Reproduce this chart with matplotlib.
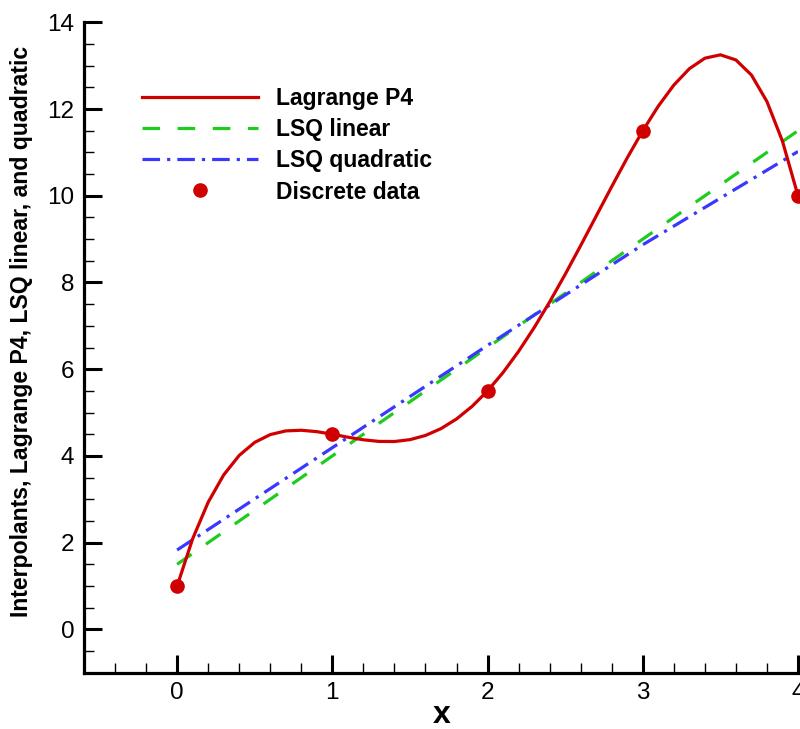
import matplotlib
matplotlib.use("Agg")
import matplotlib.pyplot as plt
from matplotlib.ticker import MultipleLocator

plt.rcParams['font.family'] = ['Liberation Sans', 'DejaVu Sans']

# Discrete data
data_x = [0, 1, 2, 3, 4]
data_y = [1.0, 4.5, 5.5, 11.5, 10.0]

# Lagrange P4 interpolant, sampled
lag_x = [0.0, 0.1, 0.2, 0.3, 0.4, 0.5, 0.6, 0.7, 0.8, 0.9,
         1.0, 1.1, 1.2, 1.3, 1.4, 1.5, 1.6, 1.7, 1.8, 1.9,
         2.0, 2.1, 2.2, 2.3, 2.4, 2.5, 2.6, 2.7, 2.8, 2.9,
         3.0, 3.1, 3.2, 3.3, 3.4, 3.5, 3.6, 3.7, 3.8, 3.9, 4.0]
lag_y = [1.0, 2.0895, 2.932, 3.562, 4.012, 4.3125, 4.492, 4.577, 4.592, 4.5595,
         4.5, 4.432, 4.372, 4.3345, 4.332, 4.375, 4.472, 4.6295, 4.852, 5.142,
         5.5, 5.9245, 6.412, 6.957, 7.552, 8.1875, 8.852, 9.532, 10.212, 10.8745,
         11.5, 12.067, 12.552, 12.9295, 13.172, 13.25, 13.132, 12.7845, 12.172, 11.257, 10.0]

# LSQ linear
lin_x = [0, 4]
lin_y = [1.5, 11.5]

# LSQ quadratic
quad_x = [0, 1, 2, 3, 4]
quad_y = [1.83, 4.19, 6.55, 8.87, 11.02]

y_ticks = [0, 2, 4, 6, 8, 10, 12, 14]

RED = '#D00000'
GREEN = '#1ECC1E'
BLUE = '#3838FF'

fig = plt.figure(figsize=(8.0, 7.29), dpi=100)
ax = fig.add_axes([0.105, 0.0772, 0.8925, 0.8922])

ax.plot(lag_x, lag_y, color=RED, lw=2.3, label='Lagrange P4', zorder=3)
ax.plot(lin_x, lin_y, color=GREEN, lw=2.3, dashes=(5.5, 5.5), label='LSQ linear', zorder=2)
ax.plot(quad_x, quad_y, color=BLUE, lw=2.3, dashes=(5.5, 2.2, 1.0, 2.2), label='LSQ quadratic', zorder=2)
ax.plot(data_x, data_y, 'o', color=RED, ms=9.5, label='Discrete data', zorder=4, clip_on=False)

ax.set_xlim(-0.6, 4.0)
ax.set_ylim(-1, 14)

for s in ['top', 'right']:
    ax.spines[s].set_visible(False)
for s in ['left', 'bottom']:
    ax.spines[s].set_linewidth(2.3)

ax.xaxis.set_major_locator(MultipleLocator(1))
ax.xaxis.set_minor_locator(MultipleLocator(0.2))
ax.yaxis.set_minor_locator(MultipleLocator(0.5))
ax.set_yticks(y_ticks)
ax.tick_params(which='major', direction='in', length=12.7, width=2.2, labelsize=17.5, pad=7)
ax.tick_params(which='minor', direction='in', length=7.5, width=1.0)

ax.set_xlabel('x', fontsize=23, fontweight='bold', labelpad=0, va='baseline')
ax.set_ylabel('Interpolants, Lagrange P4, LSQ linear, and quadratic',
              fontsize=16.6, fontweight='bold')
ax.xaxis.set_label_coords(0.501, -0.0772)
ax.yaxis.set_label_coords(-0.0714, 0.525)

ax.legend(loc='upper left', bbox_to_anchor=(0.1775, 0.881), bbox_transform=fig.transFigure,
          frameon=False, prop={'weight': 'bold', 'size': 16.5},
          handlelength=5.05, handletextpad=0.78, labelspacing=0.36, numpoints=1,
          borderpad=0, borderaxespad=0)

fig.savefig('out.png', dpi=100)
